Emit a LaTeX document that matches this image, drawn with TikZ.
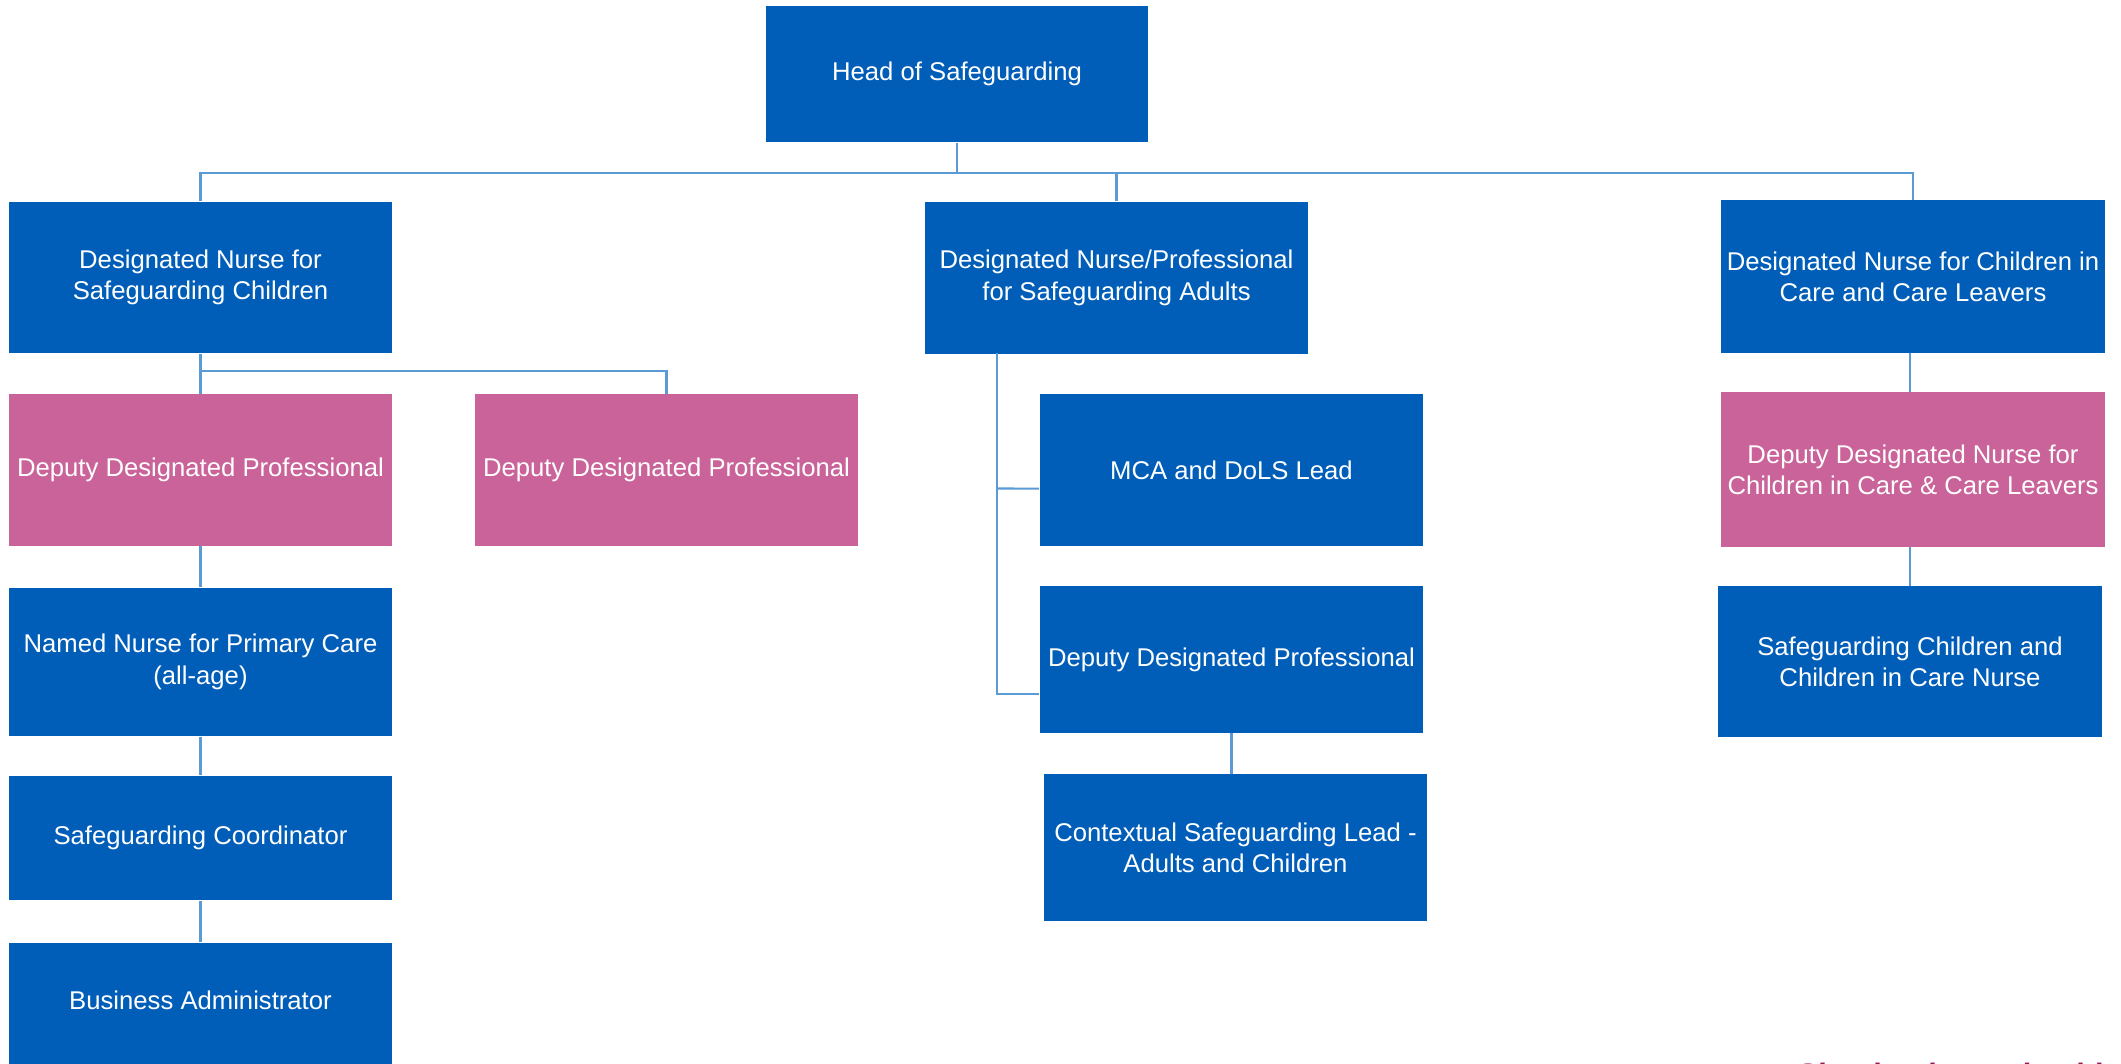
\documentclass[tikz,border=0pt]{standalone}
\usepackage{fontspec}
\setmainfont{Liberation Sans}
\usepackage{xcolor}
\usepackage{tikz}

\definecolor{nhsblue}{RGB}{0,94,184}
\definecolor{deputypink}{RGB}{202,99,153}
\definecolor{linkblue}{RGB}{91,155,213}
\definecolor{tagmagenta}{RGB}{155,20,85}

\tikzset{
    post/.style={fill=nhsblue, text=white, inner sep=0pt, align=center,
        minimum width=3.83cm, minimum height=1.51cm,
        font=\fontsize{7.3}{8.9}\selectfont},
    deputypost/.style={post, fill=deputypink},
    link/.style={draw=linkblue, line width=0.6pt}
}

\begin{document}
\begin{tikzpicture}[x=0.01cm, y=-0.01cm]
            \useasboundingbox (0,0) rectangle (2121,1064);

            % top level
            \node[post, minimum width=3.82cm, minimum height=1.36cm] (head) at (957, 74) {Head of Safeguarding};

            % designated posts
            \node[post] (dnsc) at (200.5, 277.5) {Designated Nurse for\\Safeguarding Children};
            \node[post, minimum height=1.52cm] (dnsa) at (1116.5, 278) {Designated Nurse/Professional\\for Safeguarding Adults};
            \node[post, minimum width=3.84cm, minimum height=1.52cm] (dncic) at (1913, 276.5) {Designated Nurse for Children in\\Care and Care Leavers};

            % children column
            \node[deputypost] (deputyA) at (200.5, 470) {Deputy Designated Professional};
            \node[deputypost] (deputyB) at (666.5, 470) {Deputy Designated Professional};
            \node[post, minimum height=1.48cm] (named) at (200.5, 662) {Named Nurse for Primary Care\\(all-age)};
            \node[post, minimum height=1.24cm] (coord) at (200.5, 838) {Safeguarding Coordinator};
            \node[post, minimum height=1.23cm] (admin) at (200.5, 1004.5) {\raisebox{2.6pt}{Business Administrator}};

            % adults column
            \node[post] (mca) at (1231.5, 470) {MCA and DoLS Lead};
            \node[post, minimum height=1.46cm] (ddp) at (1231.5, 659.5) {Deputy Designated Professional};
            \node[post, minimum height=1.46cm] (ctx) at (1235.5, 847.5) {Contextual Safeguarding Lead -\\Adults and Children};

            % children in care column
            \node[deputypost, minimum width=3.84cm, minimum height=1.54cm] (deputyC) at (1913, 469.5) {Deputy Designated Nurse for\\Children in Care \& Care Leavers};
            \node[post, minimum width=3.84cm, minimum height=1.50cm] (cicnurse) at (1910, 661.5) {Safeguarding Children and\\Children in Care Nurse};

            % footer, cut by the page edge
            \node[anchor=base west, text=tagmagenta, inner sep=0pt, font=\fontsize{8.8}{10}\selectfont\bfseries] (tagline) at (1797, 1085) {Shaping better health};

            \coordinate (bus) at (0, 173);
            \coordinate (split) at (0, 371);
            \coordinate (trunk) at (997, 353);

            \draw[link] (head.south) -- (head.south |- bus); % head-bus
            \draw[link] (dnsc.north) -- (dnsc.north |- bus) -- (dncic.north |- bus) -- (dncic.north); % bus
            \draw[link] (dnsa.north) -- (dnsa.north |- bus); % bus-dnsa

            \draw[link] (dnsc.south) -- (dnsc.south |- split) -| (deputyB.north); % dnsc-deputyB
            \draw[link] (dnsc.south |- split) -- (deputyA.north); % dnsc-deputyA
            \draw[link] (deputyA.south) -- (named.north); % deputyA-named
            \draw[link] (named.south) -- (coord.north); % named-coord
            \draw[link] (coord.south) -- (admin.north); % coord-admin

            \draw[link] (trunk) |- ([yshift=-9.7pt]ddp.west); % dnsa-ddp
            \draw[link] (trunk |- mca.west) ++(0,18.5) -- ([yshift=-5.3pt]mca.west); % dnsa-mca
            \draw[link] (ddp.south) -- (ddp.south |- ctx.north); % ddp-ctx

            \draw[link] (dncic.south -| cicnurse.north) -- (deputyC.north -| cicnurse.north); % dncic-deputyC
            \draw[link] (deputyC.south -| cicnurse.north) -- (cicnurse.north); % deputyC-cicnurse
        \end{tikzpicture}
\end{document}
